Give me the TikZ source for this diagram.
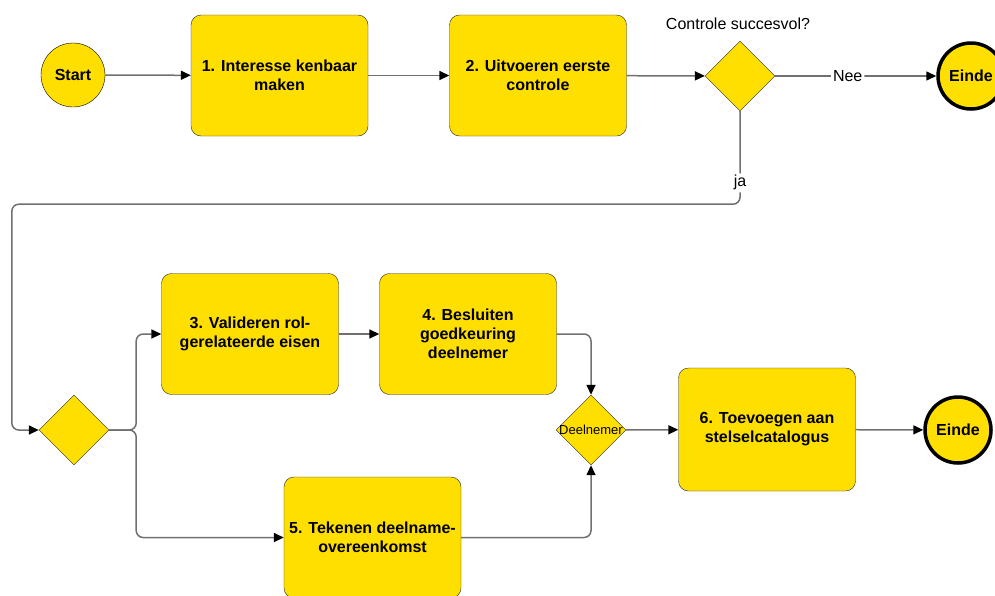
\documentclass[tikz,border=0pt]{standalone}
\usepackage{fontspec}
\setmainfont{Liberation Sans}
\usetikzlibrary{arrows.meta,shapes.geometric}

\definecolor{geel}{RGB}{255,223,0}
\definecolor{lijn}{RGB}{112,112,112}

\tikzset{
  taak/.style={draw=black!85,fill=geel,rounded corners=10pt,minimum width=177pt,minimum height=121pt,
    inner sep=2pt,align=center,font=\bfseries\fontsize{16}{19}\selectfont},
  poort/.style={diamond,draw=black!85,fill=geel,aspect=1,minimum size=70pt,inner sep=0pt},
  gebeurtenis/.style={circle,draw=black,fill=geel,minimum size=64pt,inner sep=0pt,
    font=\bfseries\fontsize{16}{19}\selectfont},
  eind/.style={gebeurtenis,line width=3.5pt,minimum size=66pt},
  pijl/.style={draw=lijn,line width=1.5pt,-{Triangle[length=10pt,width=9pt,color=black]},rounded corners=7pt},
  tekst/.style={font=\fontsize{16}{19}\selectfont,fill=white,inner sep=2pt}
}

\begin{document}
\begin{tikzpicture}[x=1pt,y=-1pt]
  \useasboundingbox (0,0) rectangle (995,595);
  % bovenste rij
  \node[gebeurtenis] (start) at (73,75) {Start};
  \node[taak] (stap1) at (279.5,75.5) {1. Interesse kenbaar\\maken};
  \node[taak] (stap2) at (538,75.5) {2. Uitvoeren eerste\\controle};
  \node[poort] (controle) at (740,76) {};
  \node[font=\fontsize{16}{19}\selectfont] (vraag) at (738,24) {Controle succesvol?};
  \node[eind] (einde1) at (971,76) {Einde};
  % onderste deel
  \node[poort] (splitsing) at (74,430) {};
  \node[taak] (stap3) at (250,334) {3. Valideren rol-\\gerelateerde eisen};
  \node[taak] (stap4) at (468,334) {4. Besluiten\\goedkeuring\\deelnemer};
  \node[taak] (stap5) at (372.5,537.5) {5. Tekenen deelname-\\overeenkomst};
  \node[poort,label={[font=\fontsize{13}{15}\selectfont]center:Deelnemer}] (deelnemer) at (591,430) {};
  \node[taak,minimum height=123pt] (stap6) at (767,429.5) {6. Toevoegen aan\\stelselcatalogus};
  \node[eind] (einde2) at (958,430) {Einde};

  \draw[pijl] (start) -- (stap1);
  \draw[pijl] (stap1) -- (stap2);
  \draw[pijl] (stap2) -- (controle);
  \draw[pijl] (controle) -- node[tekst,pos=0.45]{Nee} (einde1);
  \draw[pijl] (controle.south) -- node[tekst,pos=0.77]{ja} ++(0,93)
    -| ([xshift=-27pt]splitsing.west) -- (splitsing.west);
  \draw[pijl] (splitsing.east) -- ++(27,0) |- (stap3.west);
  \draw[pijl] (splitsing.east) -- ++(27,0) |- (stap5.west);
  \draw[pijl] (stap3) -- (stap4);
  \draw[pijl] (stap4.east) -| (deelnemer.north);
  \draw[pijl] (stap5.east) -| (deelnemer.south);
  \draw[pijl] (deelnemer) -- (stap6);
  \draw[pijl] (stap6) -- (einde2);
\end{tikzpicture}
\end{document}
